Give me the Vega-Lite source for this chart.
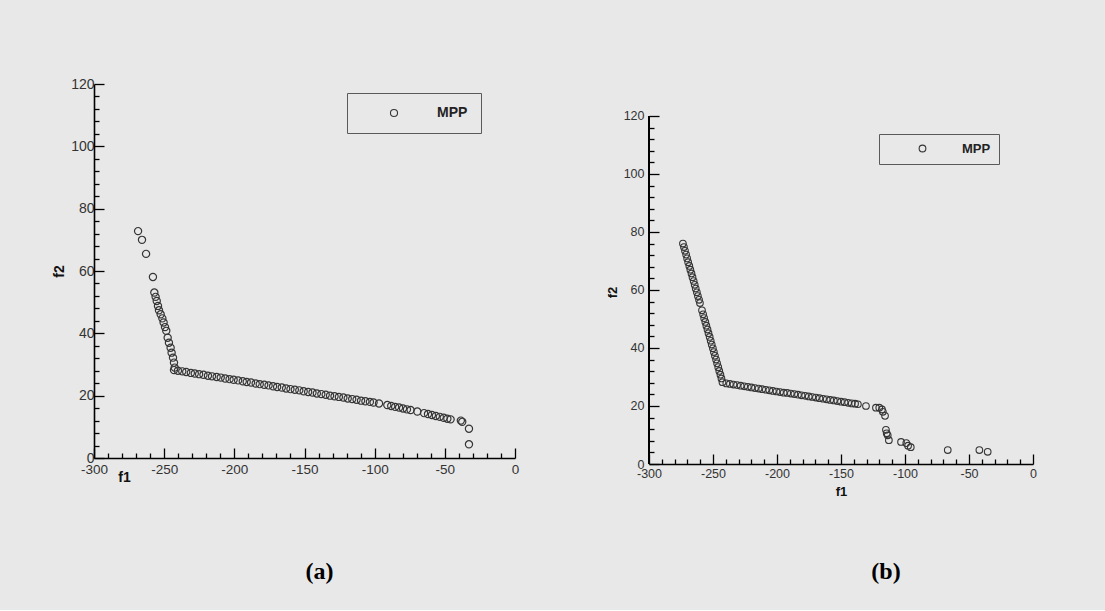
{
  "$schema": "https://vega.github.io/schema/vega-lite/v6.json",
  "background": "#e8e8e8",
  "padding": {"left": 52, "top": 77, "right": 71, "bottom": 26},
  "autosize": {"type": "pad"},
  "spacing": 134,
  "bounds": "flush",
  "resolve": {"scale": {"color": "independent"}, "legend": {"color": "independent"}},
  "config": {
    "view": {"stroke": null},
    "axis": {
      "grid": false,
      "domainColor": "#000000",
      "domainWidth": 1.6,
      "tickColor": "#000000",
      "tickWidth": 1.3,
      "labelFont": "Liberation Sans",
      "labelColor": "#333333",
      "labelOverlap": false,
      "labelFlush": false,
      "titleFont": "Liberation Sans",
      "titleFontWeight": "bold",
      "titleColor": "#111111"
    },
    "legend": {
      "labelFont": "Liberation Sans",
      "labelFontWeight": "bold",
      "labelColor": "#222222"
    }
  },
  "hconcat": [
    {
      "width": 421,
      "height": 374,
      "title": {"text": "(a)", "orient": "bottom", "anchor": "middle", "frame": "group", "font": "Liberation Serif", "fontSize": 24, "fontWeight": "bold", "color": "#000000", "dx": 15, "offset": 76},
      "data": {"values": [
        {"f1": -268.6, "f2": 72.8, "s": "MPP"},
        {"f1": -265.8, "f2": 70.0, "s": "MPP"},
        {"f1": -262.9, "f2": 65.5, "s": "MPP"},
        {"f1": -258.0, "f2": 58.1, "s": "MPP"},
        {"f1": -257.0, "f2": 53.1, "s": "MPP"},
        {"f1": -256.1, "f2": 51.7, "s": "MPP"},
        {"f1": -255.3, "f2": 50.4, "s": "MPP"},
        {"f1": -254.4, "f2": 48.8, "s": "MPP"},
        {"f1": -253.7, "f2": 47.4, "s": "MPP"},
        {"f1": -252.5, "f2": 46.1, "s": "MPP"},
        {"f1": -251.3, "f2": 44.8, "s": "MPP"},
        {"f1": -250.4, "f2": 43.5, "s": "MPP"},
        {"f1": -249.4, "f2": 42.0, "s": "MPP"},
        {"f1": -248.5, "f2": 40.8, "s": "MPP"},
        {"f1": -247.5, "f2": 38.6, "s": "MPP"},
        {"f1": -246.6, "f2": 37.0, "s": "MPP"},
        {"f1": -245.4, "f2": 35.4, "s": "MPP"},
        {"f1": -244.7, "f2": 33.8, "s": "MPP"},
        {"f1": -243.7, "f2": 32.2, "s": "MPP"},
        {"f1": -243.0, "f2": 30.6, "s": "MPP"},
        {"f1": -242.5, "f2": 29.0, "s": "MPP"},
        {"f1": -243.0, "f2": 28.2, "s": "MPP"},
        {"f1": -240.2, "f2": 28.0, "s": "MPP"},
        {"f1": -237.1, "f2": 27.8, "s": "MPP"},
        {"f1": -234.3, "f2": 27.6, "s": "MPP"},
        {"f1": -231.0, "f2": 27.3, "s": "MPP"},
        {"f1": -228.2, "f2": 27.1, "s": "MPP"},
        {"f1": -225.1, "f2": 26.9, "s": "MPP"},
        {"f1": -222.0, "f2": 26.7, "s": "MPP"},
        {"f1": -218.8, "f2": 26.4, "s": "MPP"},
        {"f1": -215.9, "f2": 26.2, "s": "MPP"},
        {"f1": -212.6, "f2": 26.0, "s": "MPP"},
        {"f1": -209.7, "f2": 25.8, "s": "MPP"},
        {"f1": -206.5, "f2": 25.5, "s": "MPP"},
        {"f1": -203.4, "f2": 25.3, "s": "MPP"},
        {"f1": -200.5, "f2": 25.1, "s": "MPP"},
        {"f1": -197.3, "f2": 24.9, "s": "MPP"},
        {"f1": -194.0, "f2": 24.6, "s": "MPP"},
        {"f1": -191.2, "f2": 24.4, "s": "MPP"},
        {"f1": -188.1, "f2": 24.2, "s": "MPP"},
        {"f1": -184.8, "f2": 23.9, "s": "MPP"},
        {"f1": -181.9, "f2": 23.7, "s": "MPP"},
        {"f1": -178.7, "f2": 23.5, "s": "MPP"},
        {"f1": -175.6, "f2": 23.3, "s": "MPP"},
        {"f1": -172.4, "f2": 23.0, "s": "MPP"},
        {"f1": -169.5, "f2": 22.8, "s": "MPP"},
        {"f1": -166.2, "f2": 22.6, "s": "MPP"},
        {"f1": -163.1, "f2": 22.3, "s": "MPP"},
        {"f1": -160.0, "f2": 22.1, "s": "MPP"},
        {"f1": -156.9, "f2": 21.9, "s": "MPP"},
        {"f1": -153.7, "f2": 21.7, "s": "MPP"},
        {"f1": -150.6, "f2": 21.4, "s": "MPP"},
        {"f1": -147.4, "f2": 21.2, "s": "MPP"},
        {"f1": -144.3, "f2": 21.0, "s": "MPP"},
        {"f1": -141.2, "f2": 20.7, "s": "MPP"},
        {"f1": -138.0, "f2": 20.5, "s": "MPP"},
        {"f1": -134.9, "f2": 20.3, "s": "MPP"},
        {"f1": -131.8, "f2": 20.0, "s": "MPP"},
        {"f1": -128.6, "f2": 19.8, "s": "MPP"},
        {"f1": -125.5, "f2": 19.6, "s": "MPP"},
        {"f1": -122.3, "f2": 19.4, "s": "MPP"},
        {"f1": -119.2, "f2": 19.1, "s": "MPP"},
        {"f1": -116.0, "f2": 18.9, "s": "MPP"},
        {"f1": -112.9, "f2": 18.7, "s": "MPP"},
        {"f1": -109.7, "f2": 18.4, "s": "MPP"},
        {"f1": -106.6, "f2": 18.2, "s": "MPP"},
        {"f1": -103.4, "f2": 18.0, "s": "MPP"},
        {"f1": -100.8, "f2": 17.8, "s": "MPP"},
        {"f1": -96.9, "f2": 17.5, "s": "MPP"},
        {"f1": -91.0, "f2": 17.0, "s": "MPP"},
        {"f1": -88.2, "f2": 16.7, "s": "MPP"},
        {"f1": -85.4, "f2": 16.4, "s": "MPP"},
        {"f1": -82.6, "f2": 16.2, "s": "MPP"},
        {"f1": -79.8, "f2": 15.9, "s": "MPP"},
        {"f1": -77.0, "f2": 15.6, "s": "MPP"},
        {"f1": -74.4, "f2": 15.4, "s": "MPP"},
        {"f1": -69.6, "f2": 14.9, "s": "MPP"},
        {"f1": -64.8, "f2": 14.4, "s": "MPP"},
        {"f1": -62.0, "f2": 14.1, "s": "MPP"},
        {"f1": -59.2, "f2": 13.8, "s": "MPP"},
        {"f1": -56.4, "f2": 13.5, "s": "MPP"},
        {"f1": -53.6, "f2": 13.2, "s": "MPP"},
        {"f1": -50.8, "f2": 12.9, "s": "MPP"},
        {"f1": -48.2, "f2": 12.6, "s": "MPP"},
        {"f1": -45.9, "f2": 12.4, "s": "MPP"},
        {"f1": -38.6, "f2": 12.0, "s": "MPP"},
        {"f1": -37.6, "f2": 11.6, "s": "MPP"},
        {"f1": -32.8, "f2": 9.4, "s": "MPP"},
        {"f1": -32.8, "f2": 4.4, "s": "MPP"}
      ]},
      "mark": {"type": "point", "shape": "circle", "filled": false, "size": 52, "strokeWidth": 1.2, "opacity": 1},
      "encoding": {
        "x": {
          "field": "f1", "type": "quantitative",
          "scale": {"domain": [-300, 0], "nice": false, "zero": false},
          "axis": {
            "title": "f1", "titleFontSize": 14, "titleX": 30, "titleY": 19, "titleAlign": "center", "titleBaseline": "middle",
            "values": [-300,-290,-280,-270,-260,-250,-240,-230,-220,-210,-200,-190,-180,-170,-160,-150,-140,-130,-120,-110,-100,-90,-80,-70,-60,-50,-40,-30,-20,-10,0],
            "labelExpr": "datum.value % 50 === 0 ? replace(datum.label, '\u2212', '-') : ''",
            "labelFontSize": 13.5, "labelPadding": 14,
            "tickSize": {"condition": {"test": "datum.value % 50 === 0", "value": -10}, "value": -5}
          }
        },
        "y": {
          "field": "f2", "type": "quantitative",
          "scale": {"domain": [0, 120], "nice": false},
          "axis": {
            "title": "f2", "titleFontSize": 14, "titlePadding": 4,
            "values": [0,4,8,12,16,20,24,28,32,36,40,44,48,52,56,60,64,68,72,76,80,84,88,92,96,100,104,108,112,116,120],
            "labelExpr": "datum.value % 20 === 0 ? datum.label : ''",
            "labelFontSize": 14, "labelPadding": 10,
            "tickSize": {"condition": {"test": "datum.value % 20 === 0", "value": -10}, "value": -5}
          }
        },
        "color": {
          "field": "s", "type": "nominal",
          "scale": {"range": ["#353535"]},
          "legend": {
            "title": null, "orient": "none", "legendX": 253, "legendY": 9,
            "strokeColor": "#5a5a5a", "padding": 13,
            "symbolType": "circle", "symbolSize": 50, "symbolStrokeWidth": 1.1, "symbolOffset": 27,
            "labelOffset": 36, "labelFontSize": 14
          }
        }
      }
    },
    {
      "width": 384,
      "height": 380,
      "title": {"text": "(b)", "orient": "bottom", "anchor": "middle", "frame": "group", "font": "Liberation Serif", "fontSize": 24, "fontWeight": "bold", "color": "#000000", "dx": 45, "offset": 62},
      "data": {"values": [
        {"f1": -273.5, "f2": 76.0, "s": "MPP"},
        {"f1": -272.7, "f2": 74.8, "s": "MPP"},
        {"f1": -271.9, "f2": 73.5, "s": "MPP"},
        {"f1": -271.0, "f2": 72.2, "s": "MPP"},
        {"f1": -270.2, "f2": 70.9, "s": "MPP"},
        {"f1": -269.4, "f2": 69.6, "s": "MPP"},
        {"f1": -268.5, "f2": 68.3, "s": "MPP"},
        {"f1": -267.7, "f2": 67.0, "s": "MPP"},
        {"f1": -266.8, "f2": 65.7, "s": "MPP"},
        {"f1": -266.0, "f2": 64.4, "s": "MPP"},
        {"f1": -265.1, "f2": 63.1, "s": "MPP"},
        {"f1": -264.3, "f2": 61.8, "s": "MPP"},
        {"f1": -263.5, "f2": 60.5, "s": "MPP"},
        {"f1": -262.6, "f2": 59.2, "s": "MPP"},
        {"f1": -261.8, "f2": 57.9, "s": "MPP"},
        {"f1": -260.9, "f2": 56.6, "s": "MPP"},
        {"f1": -260.2, "f2": 55.5, "s": "MPP"},
        {"f1": -258.6, "f2": 53.0, "s": "MPP"},
        {"f1": -257.7, "f2": 51.6, "s": "MPP"},
        {"f1": -256.9, "f2": 50.3, "s": "MPP"},
        {"f1": -256.0, "f2": 49.0, "s": "MPP"},
        {"f1": -255.2, "f2": 47.7, "s": "MPP"},
        {"f1": -254.3, "f2": 46.4, "s": "MPP"},
        {"f1": -253.5, "f2": 45.1, "s": "MPP"},
        {"f1": -252.6, "f2": 43.8, "s": "MPP"},
        {"f1": -251.8, "f2": 42.5, "s": "MPP"},
        {"f1": -251.0, "f2": 41.2, "s": "MPP"},
        {"f1": -250.1, "f2": 39.9, "s": "MPP"},
        {"f1": -249.3, "f2": 38.6, "s": "MPP"},
        {"f1": -248.5, "f2": 37.3, "s": "MPP"},
        {"f1": -247.6, "f2": 36.0, "s": "MPP"},
        {"f1": -246.8, "f2": 34.7, "s": "MPP"},
        {"f1": -245.9, "f2": 33.4, "s": "MPP"},
        {"f1": -245.1, "f2": 32.1, "s": "MPP"},
        {"f1": -244.2, "f2": 30.8, "s": "MPP"},
        {"f1": -243.4, "f2": 29.5, "s": "MPP"},
        {"f1": -242.6, "f2": 28.2, "s": "MPP"},
        {"f1": -239.6, "f2": 27.8, "s": "MPP"},
        {"f1": -236.8, "f2": 27.6, "s": "MPP"},
        {"f1": -234.0, "f2": 27.4, "s": "MPP"},
        {"f1": -231.2, "f2": 27.2, "s": "MPP"},
        {"f1": -228.4, "f2": 27.0, "s": "MPP"},
        {"f1": -225.6, "f2": 26.8, "s": "MPP"},
        {"f1": -222.8, "f2": 26.6, "s": "MPP"},
        {"f1": -220.0, "f2": 26.4, "s": "MPP"},
        {"f1": -217.2, "f2": 26.2, "s": "MPP"},
        {"f1": -214.4, "f2": 26.0, "s": "MPP"},
        {"f1": -211.6, "f2": 25.8, "s": "MPP"},
        {"f1": -208.8, "f2": 25.6, "s": "MPP"},
        {"f1": -206.0, "f2": 25.4, "s": "MPP"},
        {"f1": -203.2, "f2": 25.2, "s": "MPP"},
        {"f1": -200.4, "f2": 25.0, "s": "MPP"},
        {"f1": -197.6, "f2": 24.8, "s": "MPP"},
        {"f1": -194.8, "f2": 24.6, "s": "MPP"},
        {"f1": -192.0, "f2": 24.5, "s": "MPP"},
        {"f1": -189.2, "f2": 24.3, "s": "MPP"},
        {"f1": -186.4, "f2": 24.1, "s": "MPP"},
        {"f1": -183.6, "f2": 23.9, "s": "MPP"},
        {"f1": -180.8, "f2": 23.7, "s": "MPP"},
        {"f1": -178.0, "f2": 23.5, "s": "MPP"},
        {"f1": -175.2, "f2": 23.3, "s": "MPP"},
        {"f1": -172.4, "f2": 23.1, "s": "MPP"},
        {"f1": -169.6, "f2": 22.9, "s": "MPP"},
        {"f1": -166.8, "f2": 22.7, "s": "MPP"},
        {"f1": -164.0, "f2": 22.5, "s": "MPP"},
        {"f1": -161.2, "f2": 22.3, "s": "MPP"},
        {"f1": -158.4, "f2": 22.1, "s": "MPP"},
        {"f1": -155.6, "f2": 21.9, "s": "MPP"},
        {"f1": -152.8, "f2": 21.7, "s": "MPP"},
        {"f1": -150.0, "f2": 21.5, "s": "MPP"},
        {"f1": -147.2, "f2": 21.3, "s": "MPP"},
        {"f1": -144.4, "f2": 21.1, "s": "MPP"},
        {"f1": -141.6, "f2": 20.9, "s": "MPP"},
        {"f1": -139.0, "f2": 20.8, "s": "MPP"},
        {"f1": -136.8, "f2": 20.6, "s": "MPP"},
        {"f1": -130.5, "f2": 20.0, "s": "MPP"},
        {"f1": -122.7, "f2": 19.4, "s": "MPP"},
        {"f1": -120.1, "f2": 19.4, "s": "MPP"},
        {"f1": -118.0, "f2": 18.8, "s": "MPP"},
        {"f1": -117.3, "f2": 18.0, "s": "MPP"},
        {"f1": -115.6, "f2": 16.6, "s": "MPP"},
        {"f1": -114.9, "f2": 11.8, "s": "MPP"},
        {"f1": -114.3, "f2": 10.6, "s": "MPP"},
        {"f1": -113.5, "f2": 9.9, "s": "MPP"},
        {"f1": -112.6, "f2": 8.2, "s": "MPP"},
        {"f1": -103.1, "f2": 7.6, "s": "MPP"},
        {"f1": -99.0, "f2": 7.2, "s": "MPP"},
        {"f1": -97.6, "f2": 6.3, "s": "MPP"},
        {"f1": -95.5, "f2": 5.8, "s": "MPP"},
        {"f1": -66.6, "f2": 4.8, "s": "MPP"},
        {"f1": -41.9, "f2": 4.8, "s": "MPP"},
        {"f1": -35.4, "f2": 4.2, "s": "MPP"}
      ]},
      "encoding": {
        "x": {
          "field": "f1", "type": "quantitative",
          "scale": {"domain": [-300, 0], "nice": false, "zero": false},
          "axis": {
            "title": "f1", "titleFontSize": 13, "titleY": 27, "titleBaseline": "middle",
            "values": [-300,-290,-280,-270,-260,-250,-240,-230,-220,-210,-200,-190,-180,-170,-160,-150,-140,-130,-120,-110,-100,-90,-80,-70,-60,-50,-40,-30,-20,-10,0],
            "labelExpr": "datum.value % 50 === 0 ? replace(datum.label, '\u2212', '-') : ''",
            "labelFontSize": 12.5, "labelPadding": 13.7,
            "tickSize": {"condition": {"test": "datum.value % 50 === 0", "value": -10}, "value": -5}
          }
        },
        "y": {
          "field": "f2", "type": "quantitative",
          "scale": {"domain": [0, 131.03], "nice": false},
          "axis": {
            "title": "f2", "titleFontSize": 13, "titlePadding": 4, "titleY": 208,
            "domain": false,
            "values": [0,4,8,12,16,20,24,28,32,36,40,44,48,52,56,60,64,68,72,76,80,84,88,92,96,100,104,108,112,116,120],
            "labelExpr": "datum.value % 20 === 0 ? datum.label : ''",
            "labelFontSize": 12.5, "labelPadding": 15,
            "tickSize": {"condition": {"test": "datum.value % 20 === 0", "value": -10}, "value": -5}
          }
        }
      },
      "layer": [
        {
          "mark": {"type": "rule", "color": "#000000", "strokeWidth": 1.6},
          "encoding": {"x": {"datum": -300}, "y": {"datum": 0}, "y2": {"datum": 120}}
        },
        {
          "mark": {"type": "point", "shape": "circle", "filled": false, "size": 44, "strokeWidth": 1.1, "opacity": 1},
          "encoding": {
            "color": {
              "field": "s", "type": "nominal",
              "scale": {"range": ["#353535"]},
              "legend": {
                "title": null, "orient": "none", "legendX": 230, "legendY": 50,
                "strokeColor": "#5a5a5a", "padding": 8,
                "symbolType": "circle", "symbolSize": 45, "symbolStrokeWidth": 1.1, "symbolOffset": 29,
                "labelOffset": 33, "labelFontSize": 13
              }
            }
          }
        }
      ]
    }
  ]
}
